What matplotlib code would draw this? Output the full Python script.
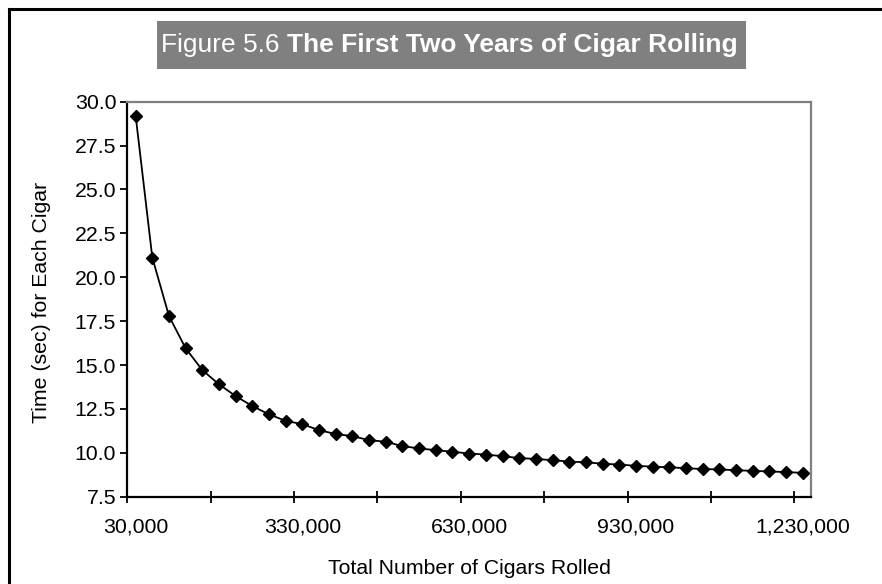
import matplotlib
matplotlib.use("Agg")
import matplotlib.pyplot as plt
from matplotlib.patches import Rectangle
from matplotlib.lines import Line2D

plt.rcParams['font.family'] = ['Liberation Sans', 'DejaVu Sans']

# Cumulative cigars rolled (category axis, 30,000 per step)
cigars_rolled = list(range(30000, 1230001, 30000))

# Time per cigar in seconds
time_per_cigar = [
    29.20, 21.12, 17.79, 15.95, 14.71, 13.90, 13.23, 12.66, 12.19, 11.82,
    11.63, 11.29, 11.07, 10.95, 10.72, 10.63, 10.38, 10.25, 10.15, 10.06,
    9.96, 9.90, 9.81, 9.70, 9.65, 9.58, 9.50, 9.46, 9.38, 9.33,
    9.26, 9.21, 9.18, 9.12, 9.08, 9.05, 9.01, 8.97, 8.94, 8.90, 8.86,
]

x_tick_labels = ["30,000", "330,000", "630,000", "930,000", "1,230,000"]
y_ticks = [7.5, 10.0, 12.5, 15.0, 17.5, 20.0, 22.5, 25.0, 27.5, 30.0]

W, H = 882, 584
fig = plt.figure(figsize=(W / 100, H / 100), dpi=100)

# outer chart frame (left and top edges)
fig.add_artist(Line2D([9 / W, 9 / W], [0, 1 - 9 / H], color="black", lw=2.2,
                      transform=fig.transFigure))
fig.add_artist(Line2D([9 / W, 1], [1 - 9 / H, 1 - 9 / H], color="black", lw=2.2,
                      transform=fig.transFigure))

# title banner
fig.add_artist(Rectangle((157 / W, 1 - 69 / H), (746 - 157) / W, 48 / H,
                         transform=fig.transFigure, facecolor="#808080",
                         edgecolor="none"))
t1 = fig.text(161 / W, 1 - 45 / H, "Figure 5.6 ", color="white", fontsize=19,
              va="center", ha="left")
fig.canvas.draw()
bb = t1.get_window_extent()
fig.text(bb.x1 / W, 1 - 45 / H, "The First Two Years of Cigar Rolling",
         color="white", fontsize=19, fontweight="bold", va="center", ha="left")

ax = fig.add_axes([127.3 / W, 1 - 496.7 / H, (811 - 127.3) / W, (496.7 - 101.7) / H])

positions = list(range(len(cigars_rolled)))
ax.plot(positions, time_per_cigar, color="black", lw=1.3, marker="D",
        markersize=6.2, markerfacecolor="black", markeredgecolor="black")

ax.set_xlim(-0.5, len(cigars_rolled) - 0.5)
ax.set_ylim(7.5, 30.0)

label_idx = [cigars_rolled.index(int(s.replace(",", ""))) for s in x_tick_labels]
ax.set_xticks(label_idx)
ax.set_xticklabels(x_tick_labels)
ax.set_xticks([-0.5 + 5 * k for k in range(9)], minor=True)
ax.tick_params(axis="x", which="major", length=0, pad=15, labelsize=15.3)
ax.tick_params(axis="x", which="minor", direction="inout", length=8, width=1.3,
               color="black")

ax.set_yticks(y_ticks)
ax.set_yticklabels([f"{v:.1f}" for v in y_ticks])
ax.tick_params(axis="y", direction="out", length=5, width=1.3, labelsize=15.3, pad=3)

for side in ("left", "bottom"):
    ax.spines[side].set_color("black")
    ax.spines[side].set_linewidth(1.6)
for side in ("top", "right"):
    ax.spines[side].set_color("#808080")
    ax.spines[side].set_linewidth(1.6)

fig.text(469 / W, 1 - 569 / H, "Total Number of Cigars Rolled", fontsize=15.3,
         ha="center", va="center")
fig.text(42 / W, 1 - 302 / H, "Time (sec) for Each Cigar", fontsize=15.3,
         ha="center", va="center", rotation=90)

fig.savefig("out.png", dpi=100)
